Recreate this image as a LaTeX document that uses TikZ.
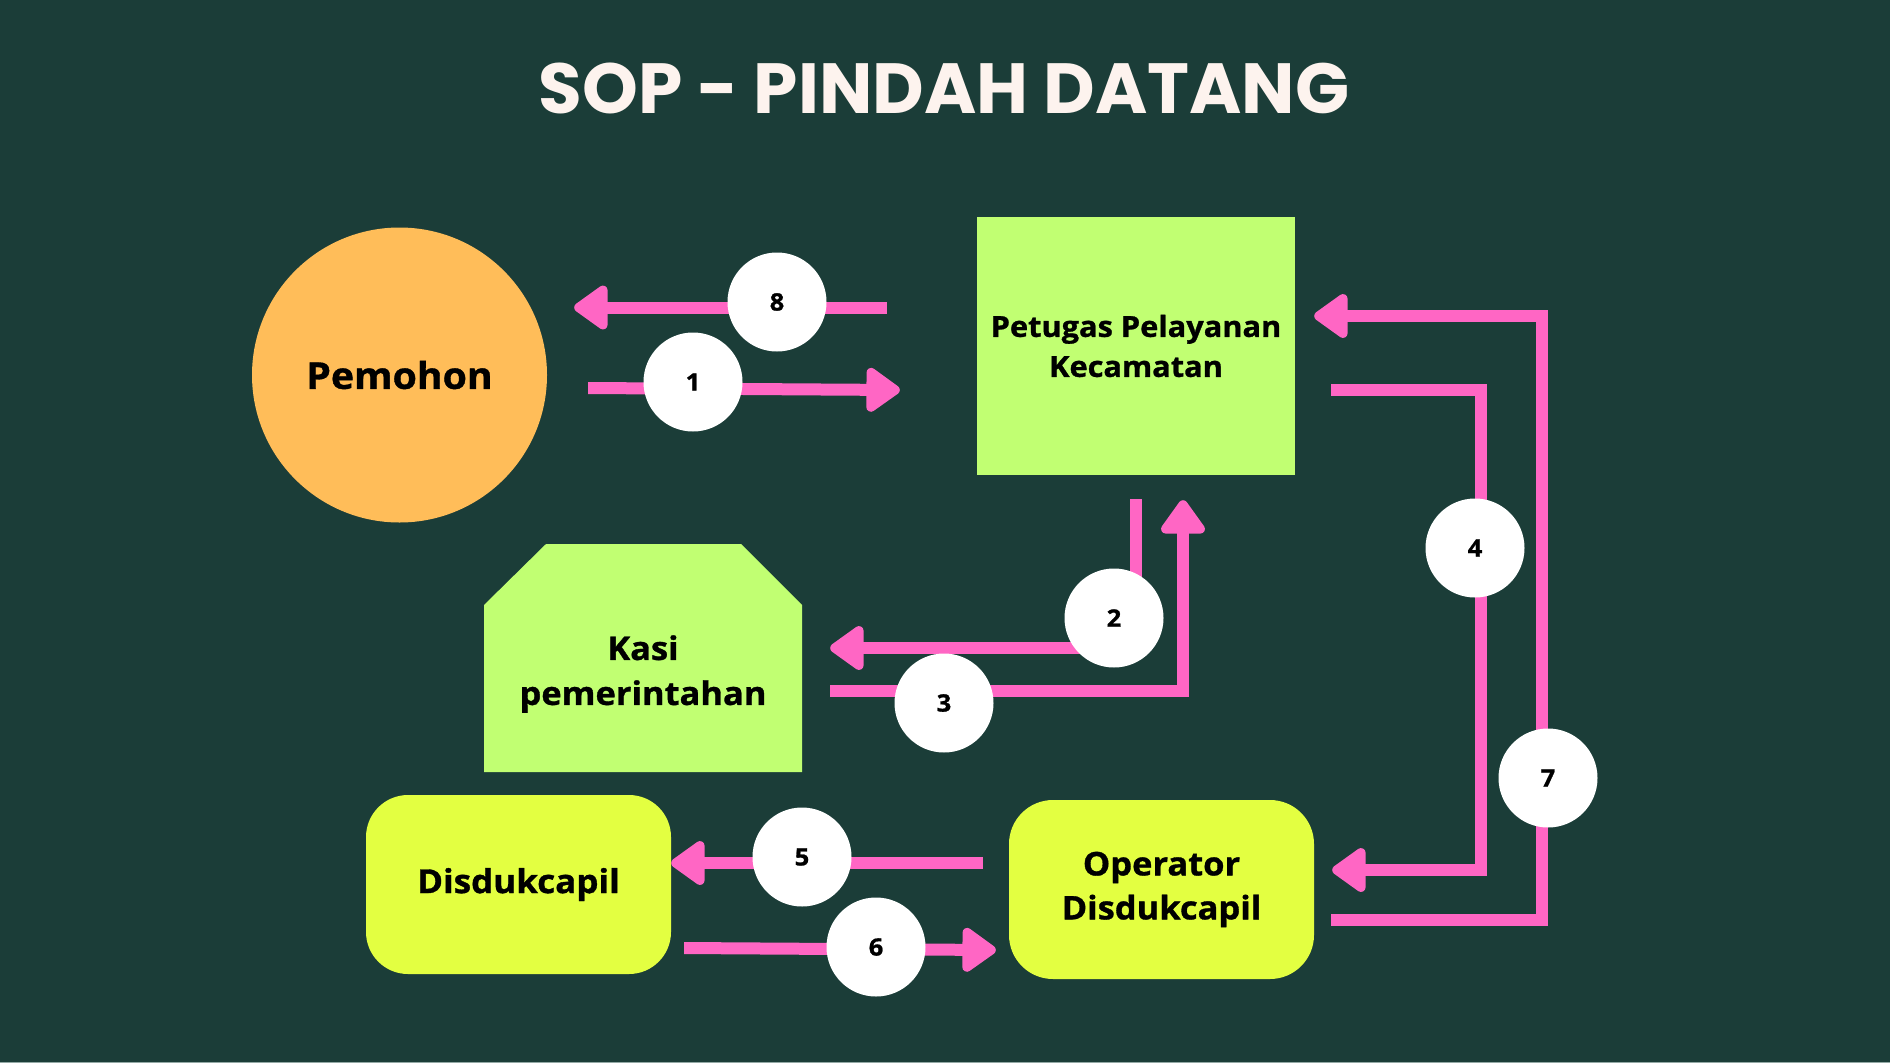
\documentclass[tikz,border=0pt]{standalone}
\usepackage{fontspec}
\setmainfont{Open Sans}[BoldFeatures={FakeBold=1, FakeStretch=1.06}]
\newfontfamily\titlefont{Poppins}
\usetikzlibrary{positioning,arrows.meta}

\definecolor{bgteal}{HTML}{1B3D38}
\definecolor{stripgray}{HTML}{93A9A5}
\definecolor{titlecream}{HTML}{FDF3EE}
\definecolor{flowpink}{HTML}{FF66C4}
\definecolor{limegreen}{HTML}{C1FF72}
\definecolor{limeyellow}{HTML}{E3FF41}
\definecolor{pemohonorange}{HTML}{FFBD59}

\tikzset{
  actor/.style={align=center, text=black, inner sep=0pt,
    font=\bfseries\fontsize{32.5}{44}\selectfont},
  flow/.style={draw=flowpink, line width=12pt,
    -{Triangle[length=37pt, width=50pt, round]}},
  num/.style={circle, fill=white, minimum size=99pt, inner sep=0pt,
    font=\bfseries\fontsize{24}{24}\selectfont},
}

\begin{document}
\begin{tikzpicture}[x=1pt, y=-1pt]
    \fill[bgteal] (0,0) rectangle (1890,1063);
    \useasboundingbox (0,0) rectangle (1890,1063);
    \fill[stripgray] (0,1061.5) rectangle (1890,1063);

    \node[font=\titlefont\bfseries\fontsize{71}{71}\selectfont, text=titlecream, anchor=base] (title) at (944,113) {SOP - PINDAH DATANG};

    \node[actor, circle, fill=pemohonorange, minimum size=295pt, font=\bfseries\fontsize{37}{44}\selectfont] (pemohon) at (399.5,375) {Pemohon};
    \node[actor, fill=limegreen, minimum width=318pt, minimum height=258pt, font=\bfseries\fontsize{29}{40}\selectfont] (petugas) at (1136,346) {Petugas Pelayanan\\Kecamatan};
    \coordinate (kasic) at (643,674);
    \fill[limegreen] (kasic) ++(-159,98) -- ++(0,-167) -- ++(62,-61) -- ++(195,0) -- ++(61,61) -- ++(0,167) -- cycle;
    \node[actor, minimum width=318pt, font=\bfseries\fontsize{32.5}{45}\selectfont] (kasi) at (kasic) {Kasi\\pemerintahan};
    \node[actor, fill=limeyellow, rounded corners=42pt, minimum width=305pt, minimum height=179pt, font=\bfseries\fontsize{33}{44}\selectfont] (dukcapil) at (518.5,884.5) {Disdukcapil};
    \node[actor, fill=limeyellow, rounded corners=44pt, minimum width=305pt, minimum height=179pt] (operator) at (1161.5,889.5) {Operator\\Disdukcapil};

    \draw[flow] ([shift={(-90,-38.5)}]petugas.west) -- ([shift={(27,-67.5)}]pemohon.east);
    \draw[flow] ([shift={(41,13)}]pemohon.east) -- ([shift={(-77,44)}]petugas.west);
    \draw[flow] ([shift={(0,24)}]petugas.south) |- ([shift={(28,-26)}]kasi.east);
    \draw[flow] ([shift={(28,17)}]kasi.east) -| ([shift={(47,25)}]petugas.south);
    \draw[flow] ([shift={(36,44)}]petugas.east) -- ++(150,0) |- ([shift={(18,-19.5)}]operator.east);
    \draw[flow] ([shift={(-26,-26.5)}]operator.west) -- ([shift={(0,-21.5)}]dukcapil.east);
    \draw[flow] ([shift={(13,63.5)}]dukcapil.east) -- ([shift={(-13,60.5)}]operator.west);
    \draw[flow] ([shift={(17,30.5)}]operator.east) -- ++(211,0) |- ([shift={(19,-30)}]petugas.east);

    \node[num] (n1) at (693,382) {1};
    \node[num] (n2) at (1114,618) {2};
    \node[num] (n3) at (944,703) {3};
    \node[num] (n4) at (1475,548) {4};
    \node[num] (n5) at (802,857) {5};
    \node[num] (n6) at (876,947) {6};
    \node[num] (n7) at (1548,778) {7};
    \node[num] (n8) at (777,302) {8};
\end{tikzpicture}
\end{document}
